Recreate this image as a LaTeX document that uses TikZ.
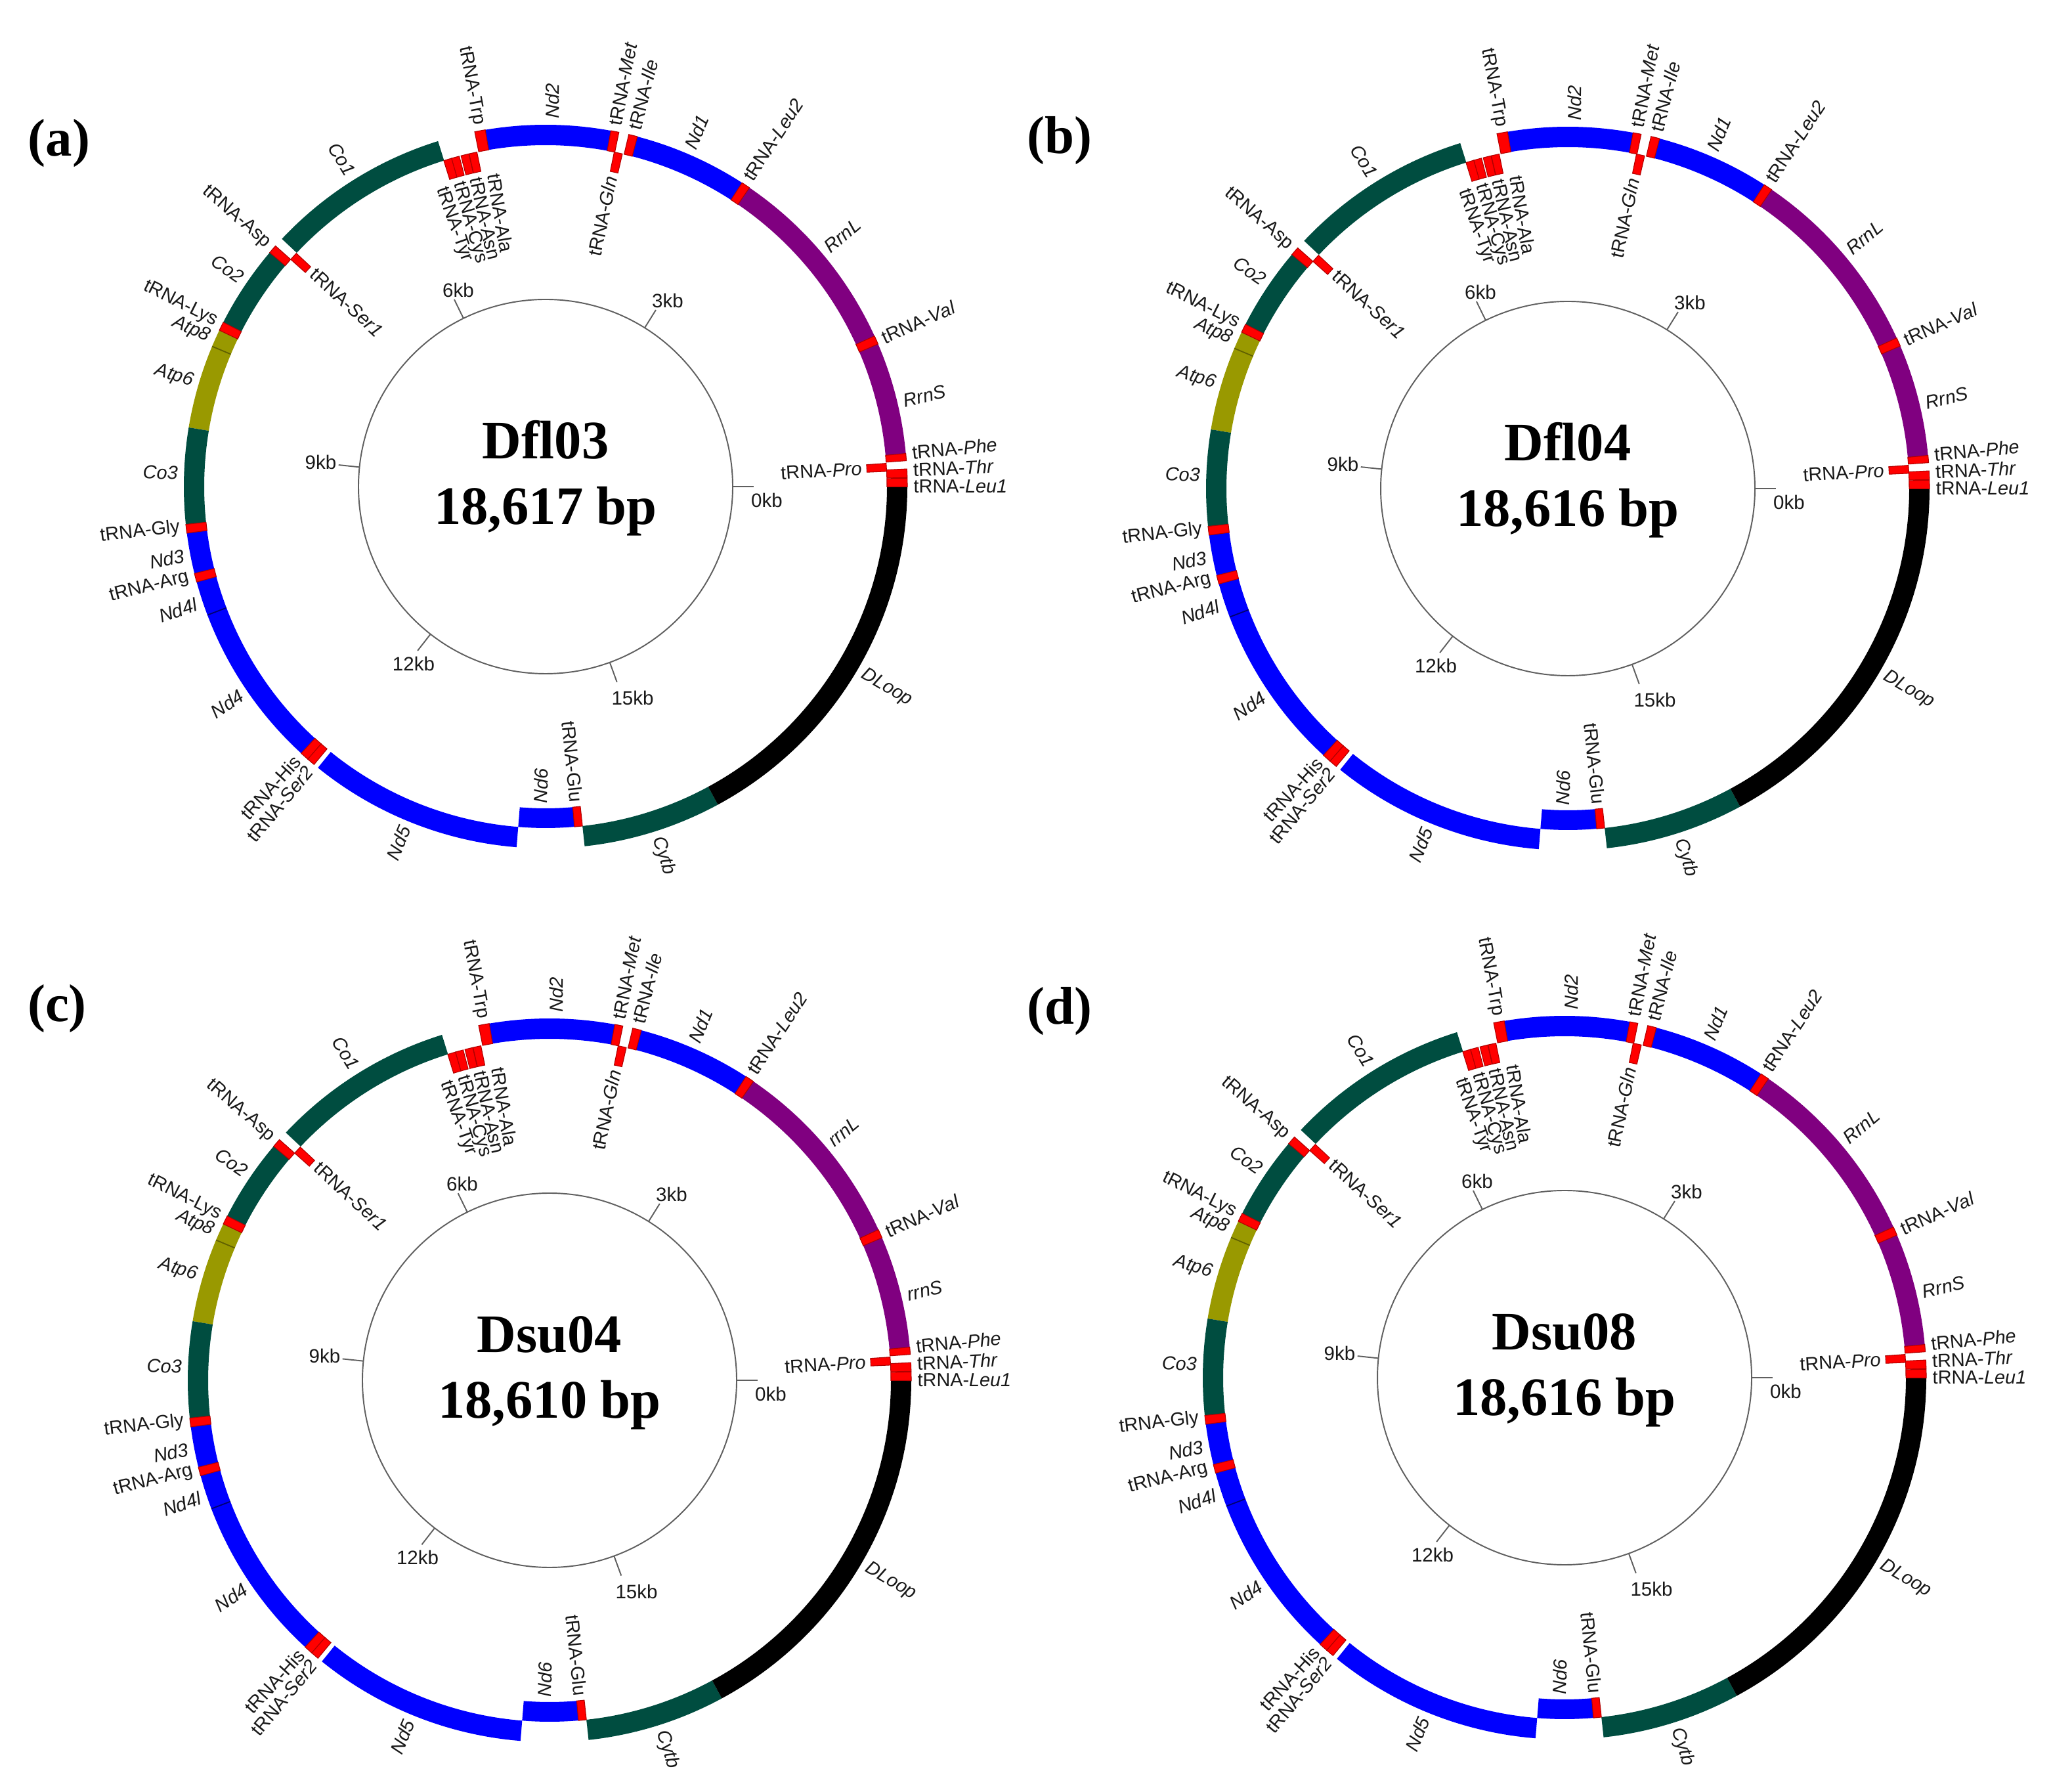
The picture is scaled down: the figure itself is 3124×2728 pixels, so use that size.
\documentclass[tikz,border=0pt]{standalone}
\usepackage{fontspec}
\setmainfont{Liberation Serif}
\newfontfamily\labfont{Liberation Sans}
\definecolor{cteal}{RGB}{0,77,64}
\definecolor{cblue}{RGB}{0,0,255}
\definecolor{cpurple}{RGB}{128,0,128}
\definecolor{colive}{RGB}{153,153,0}
\definecolor{cred}{RGB}{255,0,0}
\definecolor{credge}{RGB}{175,0,0}
\definecolor{ctick}{RGB}{95,95,95}
\definecolor{ctext}{RGB}{25,25,25}
\tikzset{
  glab/.style={font=\labfont\fontsize{8.2}{9}\selectfont, text=ctext, inner sep=0pt},
  tlab/.style={font=\labfont\fontsize{8.4}{9}\selectfont, text=ctext, inner sep=0pt},
  big/.style={font=\bfseries\fontsize{23.5}{26}\selectfont, inner sep=0pt},
  trna/.style={fill=cred, draw=credge, line width=0.3pt},
  sepline/.style={line width=0.5pt}
}
% annular sector: angle1, angle2, r1, r2, style
\newcommand\seg[5]{\path[#5] (#1:#3) arc[start angle=#1,end angle=#2,radius=#3] -- (#2:#4) arc[start angle=#2,end angle=#1,radius=#4] -- cycle;}
\newcommand\oseg[3]{\seg{#1}{#2}{520}{551}{fill=#3}}
\newcommand\iseg[3]{\seg{#1}{#2}{490}{520}{fill=#3}}
\newcommand\otr[2]{\seg{#1}{#2}{520}{551}{trna}}
\newcommand\itr[2]{\seg{#1}{#2}{490}{520}{trna}}
% labels
\newcommand\olR[2]{\node[glab,anchor=west,rotate=#1] at (#1:560) {#2};}
\newcommand\olL[2]{\node[glab,anchor=east,rotate=#1-180] at (#1:560) {#2};}
\newcommand\ilR[2]{\node[glab,anchor=east,rotate=#1] at (#1:483) {#2};}
\newcommand\ilL[2]{\node[glab,anchor=west,rotate=#1-180] at (#1:483) {#2};}
% one genome map: cx, cy, name, size text, rrnL label, rrnS label, length in kb
\newcommand\genmap[7]{%
\begin{scope}[shift={(#1,#2)}]
  % outer track
  \oseg{5.25}{23.2}{cpurple}
  \oseg{24.6}{55.7}{cpurple}
  \oseg{57.1}{75.3}{cblue}
  \oseg{79.6}{99.6}{cblue}
  \oseg{107.3}{136.8}{cteal}
  \oseg{139.7}{153.0}{cteal}
  \oseg{154.4}{170.6}{colive}
  \oseg{170.6}{186.0}{cteal}
  \oseg{187.4}{193.9}{cblue}
  \oseg{195.3}{227.5}{cblue}
  \oseg{231.0}{265.4}{cblue}
  \oseg{276.2}{298.45}{cteal}
  \oseg{298.45}{359.95}{black}
  % inner track genes
  \iseg{265.4}{274.85}{cblue}
  % overlap separators
  \draw[sepline, color={rgb,255:red,95;green,95;blue,0}] (157.2:520) -- (157.2:551);
  \draw[sepline, color={rgb,255:red,0;green,0;blue,110}] (200.8:520) -- (200.8:551);
  % tRNAs outer
  \otr{-0.05}{1.33}
  \otr{1.43}{2.8}
  \otr{4.1}{5.25}
  \otr{23.2}{24.6}
  \otr{55.7}{57.1}
  \otr{75.3}{76.7}
  \otr{78.3}{79.6}
  \otr{99.6}{101.3}
  \otr{138.3}{139.7}
  \otr{153.0}{154.4}
  \otr{186.0}{187.4}
  \otr{193.9}{195.3}
  \otr{227.5}{228.9}
  \otr{228.9}{230.2}
  % tRNAs inner
  \itr{2.55}{3.9}
  \itr{77.0}{78.4}
  \itr{101.6}{102.95}
  \itr{103.0}{104.35}
  \itr{104.65}{106.0}
  \itr{106.0}{107.35}
  \itr{136.9}{138.3}
  \itr{274.85}{276.2}
  % inner scale circle
  \draw[ctick, line width=0.55pt] (0,0) circle[radius=285];
  \foreach \k in {0,...,5}{%
    \pgfmathsetmacro\ang{\k*1080/#7}
    \draw[ctick, line width=0.55pt] (\ang:285) -- (\ang:317);}
  \node[tlab] at (337,-21) {0kb};
  \node[tlab] at (186,283) {3kb};
  \node[tlab] at (-133,299) {6kb};
  \node[tlab] at (-342.5,37) {9kb};
  \node[tlab] at (-201,-270) {12kb};
  \node[tlab] at (132.5,-321.5) {15kb};
  % centre text
  \node[big, anchor=base] at (0,42) {#3};
  \node[big, anchor=base] at (0,-58) {#4};
  % outer labels, right half
  \olR{0}{tRNA-\textit{Leu1}}
  \olR{2.6}{tRNA-\textit{Thr}}
  \olR{5.3}{tRNA-\textit{Phe}}
  \olR{13.45}{\textit{#6}}
  \olR{23.8}{tRNA-\textit{Val}}
  \olR{40.2}{\textit{#5}}
  \olR{56.7}{tRNA-\textit{Leu2}}
  \olR{66.9}{\textit{Nd1}}
  \olR{76.0}{tRNA-\textit{Ile}}
  \olR{79.1}{tRNA-\textit{Met}}
  \olR{89.0}{\textit{Nd2}}
  \olR{-72.3}{\textit{Cytb}}
  \olR{-30.5}{\textit{DLoop}}
  % outer labels, left half
  \olL{100.5}{tRNA-Trp}
  \olL{121.9}{\textit{Co1}}
  \olL{138.9}{tRNA-Asp}
  \olL{145.6}{\textit{Co2}}
  \olL{153.4}{tRNA-Lys}
  \olL{156.1}{\textit{Atp8}}
  \olL{163.4}{\textit{Atp6}}
  \olL{177.9}{\textit{Co3}}
  \olL{186.4}{tRNA-Gly}
  \olL{190.8}{\textit{Nd3}}
  \olL{194.2}{tRNA-Arg}
  \olL{198.6}{\textit{Nd4l}}
  \olL{214.3}{\textit{Nd4}}
  \olL{227.6}{tRNA-His}
  \olL{230.1}{tRNA-\textit{Ser2}}
  \olL{247.55}{\textit{Nd5}}
  % inner labels
  \ilR{3.24}{tRNA-\textit{Pro}}
  \ilR{78.1}{tRNA-\textit{Gln}}
  \ilR{-84.4}{tRNA-Glu}
  \ilL{99.4}{tRNA-Ala}
  \ilL{102.7}{tRNA-Asn}
  \ilL{106.0}{tRNA-Cys}
  \ilL{109.3}{tRNA-Tyr}
  \ilL{137.2}{tRNA-\textit{Ser1}}
  \ilL{269.1}{\textit{Nd6}}
\end{scope}}

\begin{document}
\begin{tikzpicture}[x=0.1mm,y=0.1mm]
  \useasboundingbox[fill=white] (0,0) rectangle (3124,2728);
  \genmap{831}{1987}{Dfl03}{18,617 bp}{RrnL}{RrnS}{18.617}
  \genmap{2388}{1984}{Dfl04}{18,616 bp}{RrnL}{RrnS}{18.616}
  \genmap{837}{626}{Dsu04}{18,610 bp}{rrnL}{rrnS}{18.610}
  \genmap{2383}{630}{Dsu08}{18,616 bp}{RrnL}{RrnS}{18.616}
  \node[big, font=\bfseries\fontsize{23}{26}\selectfont] (pa) at (90,2510) {(a)};
  \node[big, font=\bfseries\fontsize{23}{26}\selectfont] (pb) at (1614,2514) {(b)};
  \node[big, font=\bfseries\fontsize{23}{26}\selectfont] (pc) at (87,1192) {(c)};
  \node[big, font=\bfseries\fontsize{23}{26}\selectfont] (pd) at (1614,1188) {(d)};
\end{tikzpicture}
\end{document}
